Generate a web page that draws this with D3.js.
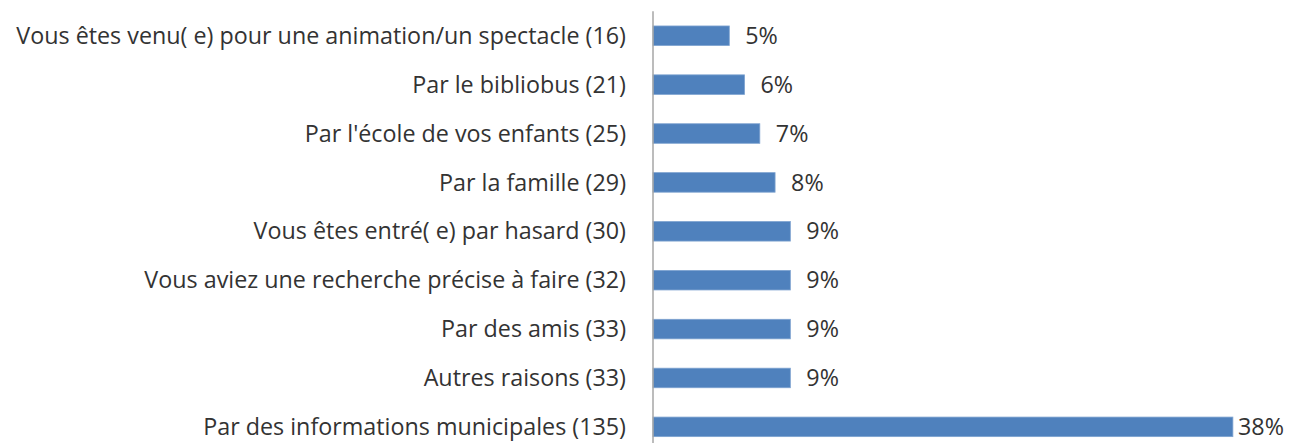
<!DOCTYPE html>
<html>
<head>
<meta charset="utf-8">
<script src="https://cdn.jsdelivr.net/npm/d3@7"></script>
<style>
  body { margin: 0; background: #fff; }
  svg { display: block; }
</style>
</head>
<body>
<div id="chart"></div>
<script>
const categories = [
    "Vous êtes venu( e) pour une animation/un spectacle (16)",
    "Par le bibliobus (21)",
    "Par l'école de vos enfants (25)",
    "Par la famille (29)",
    "Vous êtes entré( e) par hasard (30)",
    "Vous aviez une recherche précise à faire (32)",
    "Par des amis (33)",
    "Autres raisons (33)",
    "Par des informations municipales (135)"
];
const percents = [5, 6, 7, 8, 9, 9, 9, 9, 38];

const W = 1290, H = 443;
const margin = {top: 11.3, left: 653, right: 27};
const plotH = 440;

const svg = d3.select("#chart").append("svg")
    .attr("width", W)
    .attr("height", H);

// X scale (percent)
const x = d3.scaleLinear()
    .domain([0, 40])
    .range([margin.left, margin.left + 40 * 15.26]);

// Y scale
const y = d3.scaleBand()
    .domain(categories)
    .range([margin.top, margin.top + plotH])
    .paddingInner(0.6)
    .paddingOuter(0.3);

const data = categories.map((c, i) => ({cat: c, val: percents[i]}));

// Bars
svg.selectAll(".bar")
    .data(data)
    .enter().append("rect")
    .attr("class", "bar")
    .attr("x", x(0))
    .attr("y", d => y(d.cat))
    .attr("width", d => x(d.val) - x(0))
    .attr("height", y.bandwidth())
    .attr("fill", "#4f81bd")
    .attr("stroke", "#7ea3d0")
    .attr("stroke-width", 0.8);

// Y axis (line only, labels drawn separately)
svg.append("line")
    .attr("x1", x(0))
    .attr("x2", x(0))
    .attr("y1", margin.top)
    .attr("y2", H)
    .attr("stroke", "#a6a6a6")
    .attr("stroke-width", 1.5);

// Category labels
svg.selectAll(".cat")
    .data(data)
    .enter().append("text")
    .attr("class", "cat")
    .attr("x", x(0) - 27)
    .attr("y", d => y(d.cat) + y.bandwidth() / 2)
    .attr("dy", ".35em")
    .attr("text-anchor", "end")
    .attr("font-family", "'Open Sans', sans-serif")
    .attr("font-size", "23.3px")
    .attr("fill", "#333")
    .text(d => d.cat);

// Value labels
svg.selectAll(".val")
    .data(data)
    .enter().append("text")
    .attr("class", "val")
    .attr("x", d => Math.min(x(d.val) + 16, 1238))
    .attr("y", d => y(d.cat) + y.bandwidth() / 2)
    .attr("dy", ".35em")
    .attr("font-family", "'Open Sans', sans-serif")
    .attr("font-size", "23.3px")
    .attr("fill", "#333")
    .text(d => d.val + "%");
</script>
</body>
</html>
